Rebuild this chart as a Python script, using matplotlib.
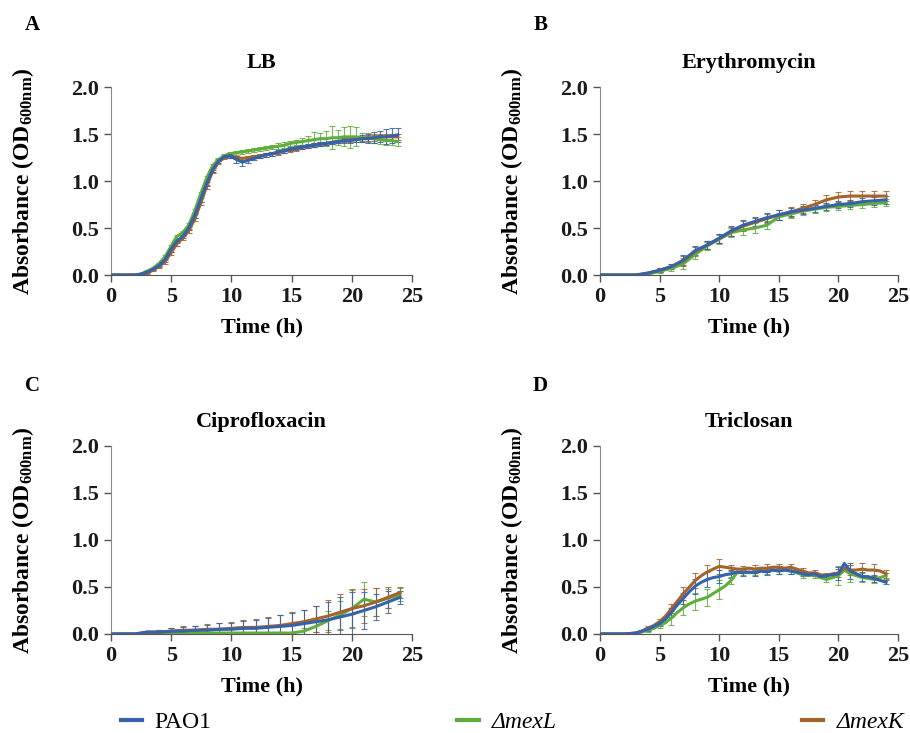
import numpy as np
import matplotlib
matplotlib.use("Agg")
import matplotlib.pyplot as plt

plt.rcParams['font.family'] = ['Liberation Serif', 'DejaVu Serif']
plt.rcParams['font.weight'] = 'bold'
plt.rcParams['mathtext.fontset'] = 'custom'
plt.rcParams['mathtext.rm'] = 'Liberation Serif:bold'
plt.rcParams['mathtext.bf'] = 'Liberation Serif:bold'
plt.rcParams['mathtext.it'] = 'Liberation Serif:italic:bold'

strains = ['PAO1', '\u0394mexL', '\u0394mexK']
colors = {'PAO1': '#3562aa', '\u0394mexL': '#5fae3c', '\u0394mexK': '#a5632a'}

# ---- A: LB (readings about every half hour) ----
t_lb = np.linspace(0, 23.8, 49)
lb_pao1 = [0, 0, 0, 0, 0, 0.01, 0.03, 0.06, 0.10, 0.16, 0.27, 0.36, 0.41, 0.50, 0.63, 0.80,
           0.97, 1.12, 1.21, 1.26, 1.27, 1.23, 1.20, 1.22, 1.24, 1.26, 1.28, 1.29, 1.31, 1.32,
           1.34, 1.35, 1.36, 1.37, 1.38, 1.39, 1.40, 1.41, 1.42, 1.43, 1.43, 1.44, 1.45, 1.45,
           1.46, 1.47, 1.47, 1.48, 1.49]
lb_mexl = [0, 0, 0, 0, 0, 0.01, 0.04, 0.07, 0.12, 0.19, 0.30, 0.41, 0.45, 0.53, 0.68, 0.86,
           1.03, 1.16, 1.23, 1.27, 1.29, 1.30, 1.31, 1.32, 1.33, 1.34, 1.35, 1.36, 1.37, 1.38,
           1.40, 1.41, 1.42, 1.43, 1.44, 1.45, 1.45, 1.46, 1.46, 1.47, 1.47, 1.47, 1.46, 1.46,
           1.45, 1.44, 1.43, 1.43, 1.42]
lb_mexk = [0, 0, 0, 0, 0, 0, 0.02, 0.05, 0.09, 0.14, 0.23, 0.33, 0.39, 0.47, 0.59, 0.76,
           0.94, 1.10, 1.20, 1.25, 1.27, 1.25, 1.24, 1.25, 1.26, 1.27, 1.28, 1.29, 1.30, 1.32,
           1.33, 1.34, 1.36, 1.37, 1.38, 1.39, 1.40, 1.41, 1.42, 1.43, 1.44, 1.44, 1.45, 1.46,
           1.46, 1.47, 1.47, 1.47, 1.47]
lb_pao1_err = [0, 0, 0, 0, 0, 0.01, 0.01, 0.01, 0.01, 0.02, 0.02, 0.02, 0.02, 0.02, 0.02, 0.02,
               0.02, 0.02, 0.02, 0.02, 0.02, 0.04, 0.04, 0.03, 0.02, 0.02, 0.02, 0.02, 0.02, 0.02,
               0.02, 0.02, 0.02, 0.02, 0.02, 0.02, 0.02, 0.02, 0.02, 0.03, 0.03, 0.03, 0.04, 0.05,
               0.06, 0.06, 0.08, 0.08, 0.07]
lb_mexl_err = [0, 0, 0, 0, 0, 0.01, 0.01, 0.01, 0.01, 0.02, 0.02, 0.02, 0.02, 0.02, 0.02, 0.02,
               0.02, 0.02, 0.02, 0.02, 0.02, 0.02, 0.02, 0.02, 0.02, 0.02, 0.02, 0.02, 0.03, 0.03,
               0.03, 0.03, 0.04, 0.05, 0.08, 0.06, 0.08, 0.12, 0.08, 0.10, 0.12, 0.10, 0.05, 0.05,
               0.05, 0.05, 0.05, 0.05, 0.05]
lb_mexk_err = [0, 0, 0, 0, 0, 0.01, 0.01, 0.01, 0.01, 0.02, 0.02, 0.02, 0.02, 0.02, 0.02, 0.02,
               0.02, 0.02, 0.02, 0.02, 0.02, 0.02, 0.02, 0.02, 0.02, 0.02, 0.02, 0.02, 0.02, 0.02,
               0.02, 0.02, 0.02, 0.02, 0.02, 0.02, 0.02, 0.02, 0.02, 0.02, 0.02, 0.02, 0.02, 0.03,
               0.03, 0.03, 0.03, 0.03, 0.03]

# ---- B: Erythromycin (hourly) ----
t_hr = np.arange(0, 25)
ery_pao1 = [0, 0, 0, 0, 0.02, 0.05, 0.09, 0.16, 0.26, 0.32, 0.39, 0.47, 0.53, 0.57, 0.61, 0.64,
            0.67, 0.69, 0.71, 0.73, 0.75, 0.76, 0.78, 0.79, 0.80]
ery_mexl = [0, 0, 0, 0, 0.01, 0.04, 0.07, 0.12, 0.22, 0.31, 0.38, 0.45, 0.48, 0.50, 0.53, 0.62,
            0.65, 0.68, 0.70, 0.72, 0.73, 0.74, 0.75, 0.76, 0.77]
ery_mexk = [0, 0, 0, 0, 0.02, 0.05, 0.09, 0.15, 0.25, 0.32, 0.39, 0.46, 0.52, 0.56, 0.60, 0.64,
            0.67, 0.71, 0.75, 0.80, 0.83, 0.84, 0.84, 0.84, 0.84]
ery_pao1_err = [0, 0, 0, 0, 0.01, 0.02, 0.03, 0.05, 0.05, 0.04, 0.05, 0.05, 0.05, 0.05, 0.05,
                0.05, 0.04, 0.04, 0.04, 0.04, 0.04, 0.04, 0.04, 0.04, 0.04]
ery_mexl_err = [0, 0, 0, 0, 0.01, 0.02, 0.03, 0.06, 0.05, 0.04, 0.05, 0.05, 0.05, 0.05, 0.04,
                0.04, 0.04, 0.04, 0.04, 0.04, 0.04, 0.04, 0.04, 0.04, 0.04]
ery_mexk_err = [0, 0, 0, 0, 0.01, 0.02, 0.03, 0.05, 0.05, 0.04, 0.05, 0.05, 0.05, 0.05, 0.05,
                0.05, 0.05, 0.05, 0.05, 0.05, 0.05, 0.05, 0.05, 0.05, 0.05]

# ---- C: Ciprofloxacin (hourly) ----
cip_pao1 = [0, 0, 0, 0.02, 0.02, 0.03, 0.03, 0.04, 0.04, 0.05, 0.05, 0.06, 0.06, 0.07, 0.08,
            0.09, 0.11, 0.13, 0.15, 0.18, 0.21, 0.25, 0.29, 0.34, 0.39]
cip_mexl = [0, 0, 0, 0.01, 0.01, 0.01, 0.01, 0.01, 0.01, 0.01, 0.01, 0.01, 0.01, 0.01, 0.01,
            0.01, 0.03, 0.08, 0.14, 0.20, 0.27, 0.37, 0.34, 0.38, 0.42]
cip_mexk = [0, 0, 0, 0.02, 0.02, 0.03, 0.04, 0.04, 0.05, 0.05, 0.06, 0.07, 0.07, 0.08, 0.09,
            0.11, 0.13, 0.16, 0.19, 0.23, 0.27, 0.30, 0.34, 0.39, 0.44]
cip_pao1_err = [0, 0, 0, 0.01, 0.02, 0.03, 0.04, 0.05, 0.06, 0.07, 0.07, 0.08, 0.09, 0.10, 0.12,
                0.13, 0.15, 0.17, 0.19, 0.21, 0.24, 0.20, 0.14, 0.12, 0.07]
cip_mexl_err = [0, 0, 0, 0.01, 0.01, 0.01, 0.01, 0.01, 0.01, 0.01, 0.01, 0.01, 0.01, 0.01, 0.01,
                0.01, 0.03, 0.06, 0.10, 0.15, 0.20, 0.18, 0.15, 0.10, 0.07]
cip_mexk_err = [0, 0, 0, 0.01, 0.02, 0.03, 0.04, 0.05, 0.06, 0.07, 0.07, 0.08, 0.09, 0.10, 0.11,
                0.12, 0.13, 0.14, 0.17, 0.19, 0.21, 0.18, 0.15, 0.11, 0.06]

# ---- D: Triclosan (half-hourly readings, hourly error bars) ----
t_half = np.arange(0, 24.5, 0.5)
tri_pao1 = [0, 0, 0, 0, 0, 0.005, 0.01, 0.03, 0.05, 0.08, 0.11, 0.16, 0.23, 0.31, 0.38, 0.45,
            0.51, 0.55, 0.58, 0.60, 0.61, 0.63, 0.64, 0.66, 0.65, 0.66, 0.65, 0.67, 0.66, 0.68,
            0.67, 0.68, 0.67, 0.66, 0.64, 0.63, 0.64, 0.61, 0.62, 0.63, 0.64, 0.75, 0.67, 0.64,
            0.61, 0.61, 0.59, 0.57, 0.55]
tri_mexl = [0, 0, 0, 0, 0, 0, 0.005, 0.02, 0.04, 0.06, 0.09, 0.12, 0.17, 0.23, 0.28, 0.32,
            0.35, 0.37, 0.39, 0.43, 0.47, 0.51, 0.57, 0.65, 0.66, 0.65, 0.66, 0.67, 0.67, 0.68,
            0.67, 0.68, 0.67, 0.65, 0.63, 0.62, 0.63, 0.60, 0.58, 0.60, 0.62, 0.68, 0.64, 0.62,
            0.60, 0.59, 0.58, 0.60, 0.62]
tri_mexk = [0, 0, 0, 0, 0, 0.005, 0.01, 0.03, 0.06, 0.09, 0.13, 0.19, 0.27, 0.35, 0.43, 0.50,
            0.57, 0.62, 0.66, 0.69, 0.72, 0.71, 0.70, 0.69, 0.69, 0.70, 0.69, 0.70, 0.70, 0.71,
            0.71, 0.70, 0.71, 0.69, 0.67, 0.65, 0.65, 0.63, 0.62, 0.64, 0.65, 0.70, 0.68, 0.68,
            0.69, 0.68, 0.68, 0.67, 0.64]
tri_pao1_err = [0, 0, 0, 0.01, 0.02, 0.03, 0.05, 0.06, 0.08, 0.08, 0.07, 0.04, 0.03, 0.03, 0.03,
                0.03, 0.03, 0.02, 0.02, 0.02, 0.07, 0.08, 0.05, 0.04, 0.02]
tri_mexl_err = [0, 0, 0, 0.01, 0.02, 0.03, 0.07, 0.08, 0.09, 0.09, 0.10, 0.04, 0.03, 0.03, 0.03,
                0.03, 0.03, 0.03, 0.03, 0.03, 0.10, 0.09, 0.05, 0.04, 0.03]
tri_mexk_err = [0, 0, 0, 0.01, 0.02, 0.03, 0.05, 0.07, 0.08, 0.07, 0.08, 0.03, 0.03, 0.04, 0.04,
                0.03, 0.03, 0.03, 0.03, 0.03, 0.04, 0.05, 0.07, 0.06, 0.04]

fig = plt.figure(figsize=(9.1, 7.33), dpi=100)

panels = [
    ('A', 'LB', [0.122, 0.6248, 0.3308, 0.2565], (0.036, 0.966)),
    ('B', 'Erythromycin', [0.6593, 0.6248, 0.3275, 0.2565], (0.594, 0.966)),
    ('C', 'Ciprofloxacin', [0.122, 0.1351, 0.3308, 0.2565], (0.036, 0.474)),
    ('D', 'Triclosan', [0.6593, 0.1351, 0.3275, 0.2565], (0.594, 0.474)),
]

axes = {}
for letter, title, pos, lxy in panels:
    ax = fig.add_axes(pos)
    axes[letter] = ax
    ax.set_xlim(0, 25)
    ax.set_ylim(0, 2.0)
    ax.set_xticks([0, 5, 10, 15, 20, 25])
    ax.set_yticks([0, 0.5, 1.0, 1.5, 2.0])
    ax.set_yticklabels(['0.0', '0.5', '1.0', '1.5', '2.0'])
    ax.spines['top'].set_visible(False)
    ax.spines['right'].set_visible(False)
    ax.spines['left'].set_color('#8a8a8a')
    ax.spines['bottom'].set_color('#555555')
    ax.tick_params(direction='out', length=5, width=1, colors='#555555',
                   labelcolor='#1a1a1a', labelsize=16)
    for lab in ax.get_xticklabels() + ax.get_yticklabels():
        lab.set_fontweight('bold')
    ax.set_title(title, fontsize=16, fontweight='bold', pad=14)
    ax.set_xlabel('Time (h)', fontsize=16, fontweight='bold', labelpad=8)
    ax.set_ylabel(r'Absorbance (OD$_{\mathrm{600nm}}$)', fontsize=17, fontweight='bold')
    ax.yaxis.set_label_coords(-0.25, 0.5)
    fig.text(lxy[0], lxy[1], letter, fontsize=15, fontweight='bold', ha='center', va='center')


def draw(ax, t, series, errs, step=1):
    order = ['\u0394mexL', '\u0394mexK', 'PAO1']
    handles = {}
    for name in order:
        y = np.array(series[name])
        e = np.array(errs[name])
        c = colors[name]
        ax.errorbar(t[::step], y[::step], yerr=e, fmt='none', ecolor=c, elinewidth=0.8,
                    capsize=2, capthick=0.8, alpha=0.85, zorder=2)
        ln, = ax.plot(t, y, color=c, lw=2.2, zorder=3, label=name)
        handles[name] = ln
    return handles


h = draw(axes['A'], t_lb,
         {'PAO1': lb_pao1, '\u0394mexL': lb_mexl, '\u0394mexK': lb_mexk},
         {'PAO1': lb_pao1_err, '\u0394mexL': lb_mexl_err, '\u0394mexK': lb_mexk_err})
draw(axes['B'], t_hr,
     {'PAO1': ery_pao1, '\u0394mexL': ery_mexl, '\u0394mexK': ery_mexk},
     {'PAO1': ery_pao1_err, '\u0394mexL': ery_mexl_err, '\u0394mexK': ery_mexk_err})
draw(axes['C'], t_hr,
     {'PAO1': cip_pao1, '\u0394mexL': cip_mexl, '\u0394mexK': cip_mexk},
     {'PAO1': cip_pao1_err, '\u0394mexL': cip_mexl_err, '\u0394mexK': cip_mexk_err})
draw(axes['D'], t_half,
     {'PAO1': tri_pao1, '\u0394mexL': tri_mexl, '\u0394mexK': tri_mexk},
     {'PAO1': tri_pao1_err, '\u0394mexL': tri_mexl_err, '\u0394mexK': tri_mexk_err}, step=2)

leg = fig.legend([h[s] for s in strains], strains, loc='center', ncol=3,
                 bbox_to_anchor=(0.563, 0.015), frameon=False,
                 prop={'family': 'Liberation Serif', 'weight': 'normal', 'size': 17},
                 handlelength=0.9, handletextpad=0.55, columnspacing=10.4)
for line in leg.get_lines():
    line.set_linewidth(3)
for txt in leg.get_texts()[1:]:
    txt.set_fontstyle('italic')

fig.savefig('out.png', dpi=100)
